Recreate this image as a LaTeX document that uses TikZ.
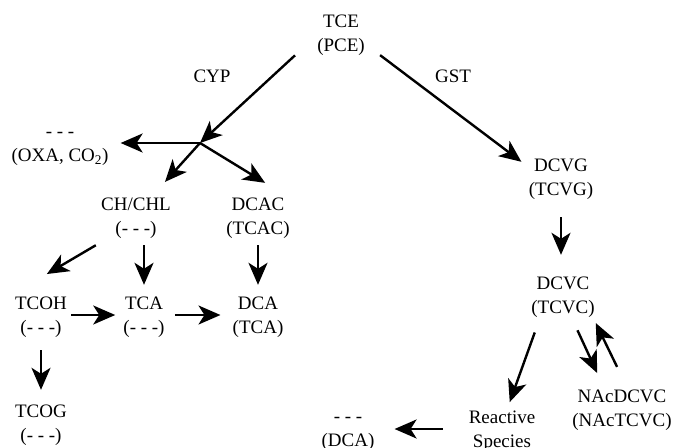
\documentclass[tikz,border=0pt]{standalone}
\usepackage{fontspec}
\setmainfont{Liberation Serif}
\usetikzlibrary{arrows.meta}
\tikzset{
  compound/.style={align=center, inner sep=0pt, font=\fontsize{19}{24}\selectfont},
  enzyme/.style={anchor=base, inner sep=0pt, font=\fontsize{19}{24}\selectfont},
  flow/.style={line width=2.4pt, -{Stealth[length=22pt,width=19pt,inset=6pt]}},
}
\newcommand{\twoline}[2]{\strut#1\\\strut#2}

\begin{document}
\begin{tikzpicture}[x=1pt,y=-1pt]
\useasboundingbox (0,0) rectangle (677,447);
% compounds
\node[compound] (tce) at (341,35) {\twoline{TCE}{(PCE)}};
\node[compound] (oxa) at (60,145) {\twoline{- - -}{(OXA, CO\textsubscript{2})}};
\node[compound] (chl) at (136,218) {\twoline{CH/CHL}{(- - -)}};
\node[compound] (dcac) at (258,218) {\twoline{DCAC}{(TCAC)}};
\node[compound] (tcoh) at (41,317) {\twoline{TCOH}{(- - -)}};
\node[compound] (tca) at (144,317) {\twoline{TCA}{(- - -)}};
\node[compound] (dca) at (258,317) {\twoline{DCA}{(TCA)}};
\node[compound] (tcog) at (41,425) {\twoline{TCOG}{(- - -)}};
\node[compound] (dcvg) at (561,179) {\twoline{DCVG}{(TCVG)}};
\node[compound] (dcvc) at (563,297) {\twoline{DCVC}{(TCVC)}};
\node[compound] (nac) at (622,410) {\twoline{NAcDCVC}{(NAcTCVC)}};
\node[compound] (react) at (502,431) {\twoline{Reactive}{Species}};
\node[compound] (dcatwo) at (348,430) {\twoline{- - -}{(DCA)}};
% enzymes
\node[enzyme] (cyp) at (212,82) {CYP};
\node[enzyme] (gst) at (453,82) {GST};
\coordinate (fork) at (200,143);

% CYP branch
\draw[flow, shorten <=30pt] (tce.west) -- (fork);
\draw[flow, shorten >=12pt] (fork) -- (fork -| oxa.east);
\draw[flow, shorten >=16pt] (fork) -- (chl.53);
\draw[flow, shorten >=21pt] (fork) -- (dcac.44);
\draw[flow, shorten <=6pt, shorten >=37pt] (chl.south west) -- (tcoh.north west);
\draw[flow, shorten <=3pt, shorten >=8pt] (chl.south -| tca.north) -- (tca.north);
\draw[flow, shorten <=3pt, shorten >=8pt] (dcac.south) -- (dca.north);
\draw[flow, shorten <=4pt, shorten >=8pt] ([yshift=2pt]tcoh.east) -- ([yshift=2pt]tcoh.east -| tca.west);
\draw[flow, shorten <=10pt, shorten >=12pt] ([yshift=2pt]tca.east) -- ([yshift=2pt]tca.east -| dca.west);
\draw[flow, shorten <=9pt, shorten >=11pt] (tcoh.south) -- (tcog.north);

% GST branch
\draw[flow, shorten <=19pt, shorten >=9pt] (tce.-20) -- (dcvg.160);
\draw[flow, shorten <=14pt, shorten >=18pt] (dcvg.south) -- (dcvg.south |- dcvc.north);
\draw[flow, shorten <=12pt, shorten >=5pt] (dcvc.225) -- (react.76);
\draw[flow, shorten <=10pt, shorten >=14pt] (dcvc.-67) -- (nac.128);
\draw[flow, shorten <=21pt, shorten >=2pt] (nac.80) -- (dcvc.south east);
\draw[flow, shorten <=26pt, shorten >=20pt] ([yshift=2pt]react.west) -- ([yshift=2pt]react.west -| dcatwo.east);
\end{tikzpicture}
\end{document}
